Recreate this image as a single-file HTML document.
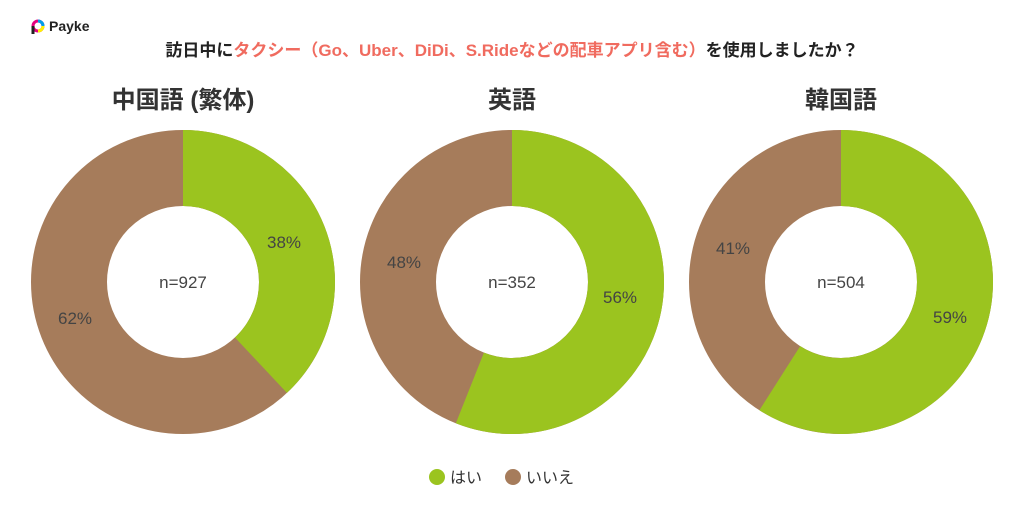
<!DOCTYPE html>
<html><head><meta charset="utf-8"><style>
body{margin:0;width:1024px;height:512px;background:#fff;overflow:hidden;font-family:"Liberation Sans","Noto Sans CJK JP",sans-serif}
</style></head><body>
<svg width="1024" height="512" viewBox="0 0 1024 512" xmlns="http://www.w3.org/2000/svg" style="font-family:'Liberation Sans','Noto Sans CJK JP',sans-serif">
<g>
<circle cx="38" cy="26" r="5" fill="none" stroke="#e4007f" stroke-width="3"/>
<path d="M33 26 L33 34" stroke="#222" stroke-width="3"/>
<path d="M38 21 A5 5 0 0 1 43 26" stroke="#00a0e9" stroke-width="3" fill="none"/>
<path d="M43 26 A5 5 0 0 1 38 31" stroke="#fff100" stroke-width="3" fill="none"/>
<text x="49" y="31" font-size="14" font-weight="bold" fill="#222">Payke</text>
</g>
<text x="512" y="56" font-size="17" font-weight="bold" fill="#222" text-anchor="middle">訪日中に<tspan fill="#f06b5f">タクシー（Go、Uber、DiDi、S.Rideなどの配車アプリ含む）</tspan>を使用しましたか？</text>
<text x="183" y="108" font-size="24" font-weight="bold" fill="#333" text-anchor="middle">中国語 (繁体)</text>
<text x="512" y="108" font-size="24" font-weight="bold" fill="#333" text-anchor="middle">英語</text>
<text x="841" y="108" font-size="24" font-weight="bold" fill="#333" text-anchor="middle">韓国語</text>
<g fill="none" stroke-width="76">
<circle cx="183" cy="282" r="114" stroke="#a67c5b"/>
<circle cx="183" cy="282" r="114" stroke="#9bc41f" stroke-dasharray="272.19 716.28" transform="rotate(-90 183 282)"/>
<circle cx="512" cy="282" r="114" stroke="#a67c5b"/>
<circle cx="512" cy="282" r="114" stroke="#9bc41f" stroke-dasharray="401.12 716.28" transform="rotate(-90 512 282)"/>
<circle cx="841" cy="282" r="114" stroke="#a67c5b"/>
<circle cx="841" cy="282" r="114" stroke="#9bc41f" stroke-dasharray="422.6 716.28" transform="rotate(-90 841 282)"/>
</g>
<g font-size="17" fill="#444" text-anchor="middle">
<text x="183" y="288">n=927</text><text x="512" y="288">n=352</text><text x="841" y="288">n=504</text>
<text x="284" y="248">38%</text><text x="75" y="324">62%</text>
<text x="404" y="268">48%</text><text x="620" y="303">56%</text>
<text x="733" y="254">41%</text><text x="950" y="323">59%</text>
</g>
<circle cx="437" cy="477" r="8" fill="#9bc41f"/>
<text x="450" y="483" font-size="16" fill="#333">はい</text>
<circle cx="513" cy="477" r="8" fill="#a67c5b"/>
<text x="526" y="483" font-size="16" fill="#333">いいえ</text>
</svg>
</body></html>
